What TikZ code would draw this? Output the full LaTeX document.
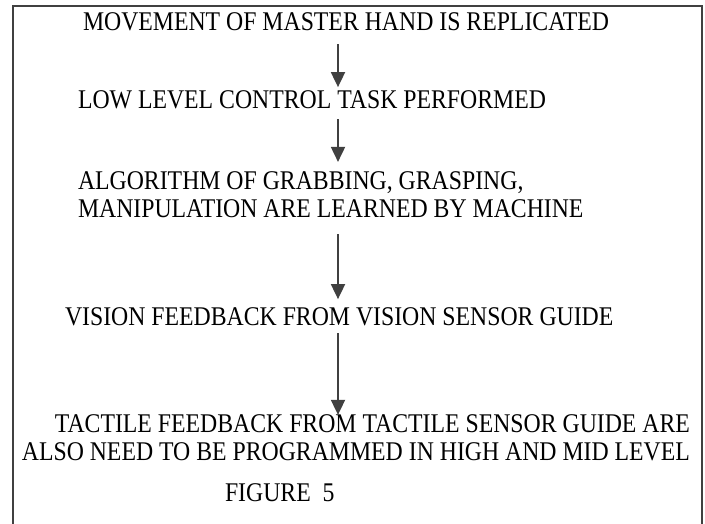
\documentclass[tikz,border=0pt]{standalone}
\usepackage{fontspec}
\setmainfont[FakeStretch=0.88]{Liberation Serif}
\usetikzlibrary{arrows.meta}
\begin{document}
\begin{tikzpicture}[x=1bp,y=-1bp,
  txt/.style={inner sep=0pt,outer sep=0pt,font=\fontsize{27bp}{28bp}\selectfont},
  arr/.style={draw=black!75,line width=1.8bp,-{Triangle[width=14bp,length=15bp]}},
  frame/.style={draw=black!75,line width=2bp}]
\useasboundingbox (0,0) rectangle (705,524);
\draw[frame] (12.5,524) -- (12.5,6) -- (701.5,6) -- (701.5,524);
\coordinate (ax) at (338,0);
\node[txt,anchor=base west] (t1) at (83,31) {MOVEMENT OF MASTER HAND IS REPLICATED};
\node[txt,anchor=base west] (t2) at (78,109) {LOW LEVEL CONTROL TASK PERFORMED};
\node[txt,anchor=west,align=left] (t3) at (78,195) {ALGORITHM OF GRABBING, GRASPING,\\MANIPULATION ARE LEARNED BY MACHINE};
\node[txt,anchor=base west] (t4) at (65,325) {VISION FEEDBACK FROM VISION SENSOR GUIDE};
\node[txt,anchor=east,align=right] (t5) at (690,438) {TACTILE FEEDBACK FROM TACTILE SENSOR GUIDE ARE\\ALSO NEED TO BE PROGRAMMED IN HIGH AND MID LEVEL};
\node[txt,anchor=base west] (t6) at (225,501) {FIGURE\ \ 5};
\draw[arr,shorten <=13bp,shorten >=4bp] (t1.south -| ax) -- (t2.north -| ax);
\draw[arr,shorten <=10bp,shorten >=10bp] (t2.south -| ax) -- (t3.north -| ax);
\draw[arr,shorten <=16bp,shorten >=8bp] (t3.south -| ax) -- (t4.north -| ax);
\draw[arr,shorten <=8bp,shorten >=0bp] (t4.south -| ax) -- (t5.north -| ax);
\end{tikzpicture}
\end{document}
